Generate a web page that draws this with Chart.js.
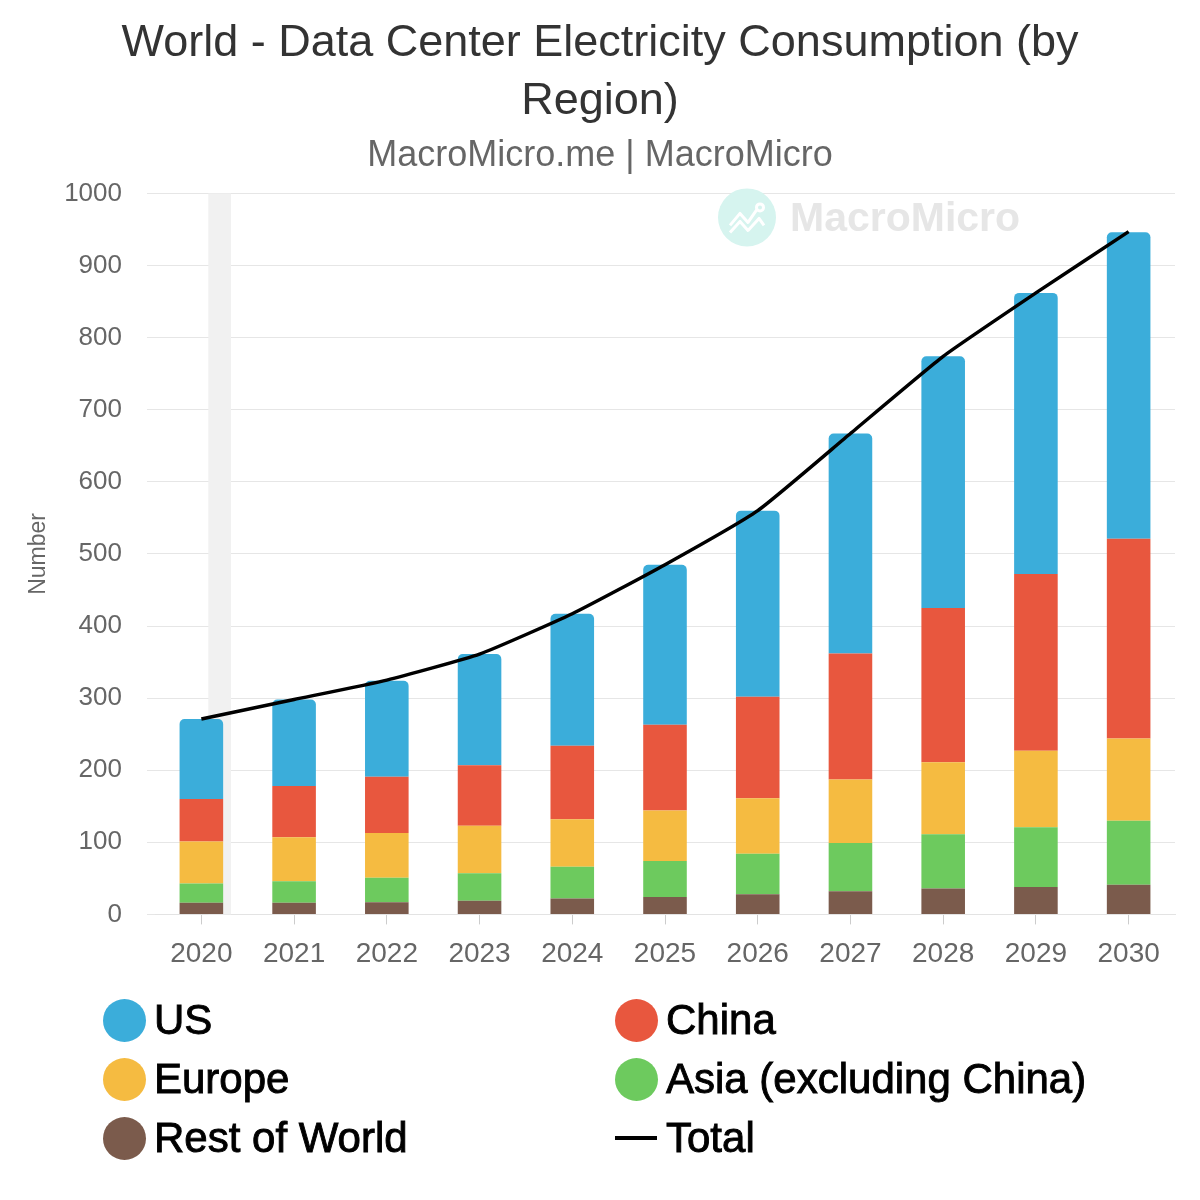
<!DOCTYPE html>
<html>
<head>
<meta charset="utf-8">
<script src="https://cdn.jsdelivr.net/npm/chart.js@4.4.1/dist/chart.umd.min.js"></script>
<style>
  html, body { margin: 0; padding: 0; background: #fff; }
  #wrap { position: relative; width: 1200px; height: 1200px; }
  #c { position: absolute; left: 0; top: 0; }
  .lg { position: absolute; height: 44px; display: flex; align-items: center;
        font-family: "Liberation Sans", Arial, sans-serif; font-size: 42px; color: #000; white-space: nowrap;
        -webkit-text-stroke: 0.9px #000; }
  .dot { width: 43px; height: 43px; border-radius: 50%; margin-right: 8px; flex: none; }
  .ln { width: 42px; height: 4px; background: #000; margin-right: 9px; flex: none; }
</style>
</head>
<body>
<div id="wrap">
  <canvas id="c" width="1200" height="1200"></canvas>
  <div id="legend"></div>
</div>
<script>
// ---- data ----
const years = ["2020","2021","2022","2023","2024","2025","2026","2027","2028","2029","2030"];
const restOfWorld = [16, 16, 17, 19, 22, 24, 28, 32, 36, 38, 41];
const asiaExChina = [27, 30, 34, 38, 44, 50, 56, 67, 75, 83, 89];
const europe      = [58, 61, 62, 66, 66, 70, 77, 88, 100, 106, 114];
const china       = [59, 71, 78, 84, 102, 119, 141, 175, 214, 245, 277];
const us          = [111, 120, 133, 154, 183, 222, 258, 305, 349, 390, 425];
const total       = [271, 298, 325, 361, 417, 485, 560, 667, 774, 862, 947];
const yTicks = [0, 100, 200, 300, 400, 500, 600, 700, 800, 900, 1000];
const titleLines = ["World - Data Center Electricity Consumption (by", "Region)"];
const subtitleText = "MacroMicro.me | MacroMicro";

const FONT = '"Liberation Sans", Arial, sans-serif';
const C = { us: '#3badda', china: '#e8573e', europe: '#f5bb41', asia: '#6dca5e', rest: '#7b5b4c', total: '#000000' };

const bandPlugin = {
  id: 'band',
  beforeDatasetsDraw(chart) {
    const { ctx, chartArea, scales } = chart;
    const x = scales.x;
    const cw = x.getPixelForValue(1) - x.getPixelForValue(0);
    const x0 = x.getPixelForValue(0) + 0.075 * cw;
    const x1 = x.getPixelForValue(0) + 0.32 * cw;
    ctx.save();
    ctx.fillStyle = '#f1f1f1';
    ctx.fillRect(x0, chartArea.top, x1 - x0, chartArea.bottom - chartArea.top);
    // watermark
    const cx = chartArea.right - 428, cy = chartArea.top + 24;
    ctx.fillStyle = '#d6f4ef';
    ctx.beginPath(); ctx.arc(cx, cy, 29, 0, Math.PI * 2); ctx.fill();
    ctx.strokeStyle = '#ffffff'; ctx.lineWidth = 3; ctx.lineJoin = 'round';
    ctx.beginPath();
    ctx.moveTo(cx - 17, cy + 8); ctx.lineTo(cx - 7, cy - 4); ctx.lineTo(cx + 1, cy + 5); ctx.lineTo(cx + 10, cy - 8);
    ctx.moveTo(cx - 17, cy + 15); ctx.lineTo(cx - 7, cy + 4); ctx.lineTo(cx + 1, cy + 13); ctx.lineTo(cx + 12, cy + 1); ctx.lineTo(cx + 17, cy + 8);
    ctx.stroke();
    ctx.beginPath(); ctx.arc(cx + 13, cy - 10, 3.5, 0, Math.PI * 2); ctx.stroke();
    ctx.fillStyle = '#e6e6e6';
    ctx.font = 'bold 41px ' + FONT;
    ctx.textBaseline = 'middle';
    ctx.fillText('MacroMicro', cx + 43, cy + 2);
    ctx.restore();
  }
};

const barBase = { type: 'bar', stack: 'bars', barPercentage: 0.47, categoryPercentage: 1, order: 1 };

const chart = new Chart(document.getElementById('c'), {
  data: {
    labels: years,
    datasets: [
      { type: 'line', label: 'Total', data: total, stack: 'line', borderColor: C.total, borderWidth: 3.5,
        pointRadius: 0, tension: 0.15, fill: false, order: 0 },
      Object.assign({ label: 'Rest of World', data: restOfWorld, backgroundColor: C.rest }, barBase),
      Object.assign({ label: 'Asia (excluding China)', data: asiaExChina, backgroundColor: C.asia }, barBase),
      Object.assign({ label: 'Europe', data: europe, backgroundColor: C.europe }, barBase),
      Object.assign({ label: 'China', data: china, backgroundColor: C.china }, barBase),
      Object.assign({ label: 'US', data: us, backgroundColor: C.us,
        borderRadius: { topLeft: 5, topRight: 5, bottomLeft: 0, bottomRight: 0 }, borderSkipped: 'start' }, barBase)
    ]
  },
  options: {
    responsive: false,
    animation: false,
    devicePixelRatio: 1,
    layout: { padding: { left: 25, right: 25, top: 0, bottom: 216 } },
    plugins: {
      legend: { display: false },
      tooltip: { enabled: false },
      title: { display: true, text: titleLines, color: '#333333',
        font: { family: FONT, size: 45, weight: 'normal', lineHeight: 1.28 }, padding: { top: 15, bottom: 4 } },
      subtitle: { display: true, text: subtitleText, color: '#666666',
        font: { family: FONT, size: 36, weight: 'normal', lineHeight: 1.2 }, padding: { top: 0, bottom: 16 } }
    },
    scales: {
      x: {
        stacked: true,
        grid: { display: true, drawOnChartArea: false, drawTicks: true, tickLength: 10, color: '#cccccc', offset: false },
        border: { display: true, color: '#e3e3e3' },
        ticks: { color: '#666666', font: { family: FONT, size: 28 }, padding: 13, maxRotation: 0 }
      },
      y: {
        stacked: true, min: 0, max: 1000,
        afterBuildTicks(scale) { scale.ticks = yTicks.map(v => ({ value: v })); },
        afterFit(scale) { scale.width = 130; },
        grid: { color: '#e6e6e6', drawTicks: true, tickLength: 8 },
        border: { display: false },
        ticks: { color: '#666666', font: { family: FONT, size: 26 }, padding: 25,
          callback: (v) => String(v) },
        title: { display: true, text: 'Number', color: '#666666', font: { family: FONT, size: 23 }, padding: { top: 0, bottom: 0 } }
      }
    }
  },
  plugins: [bandPlugin]
});

// ---- legend (HTML, built from datasets) ----
const legendOrder = ['US', 'China', 'Europe', 'Asia (excluding China)', 'Rest of World', 'Total'];
const colX = [103, 615];
const rowY = [1020, 1079, 1138];
const legendEl = document.getElementById('legend');
legendOrder.forEach((name, i) => {
  const ds = chart.data.datasets.find(d => d.label === name);
  const item = document.createElement('div');
  item.className = 'lg';
  item.style.left = colX[i % 2] + 'px';
  item.style.top = (rowY[Math.floor(i / 2)] - 22) + 'px';
  const sym = document.createElement('span');
  if (ds.type === 'line') { sym.className = 'ln'; sym.style.background = ds.borderColor; }
  else { sym.className = 'dot'; sym.style.background = ds.backgroundColor; }
  item.appendChild(sym);
  const t = document.createElement('span');
  t.textContent = name;
  item.appendChild(t);
  legendEl.appendChild(item);
});
</script>
</body>
</html>
